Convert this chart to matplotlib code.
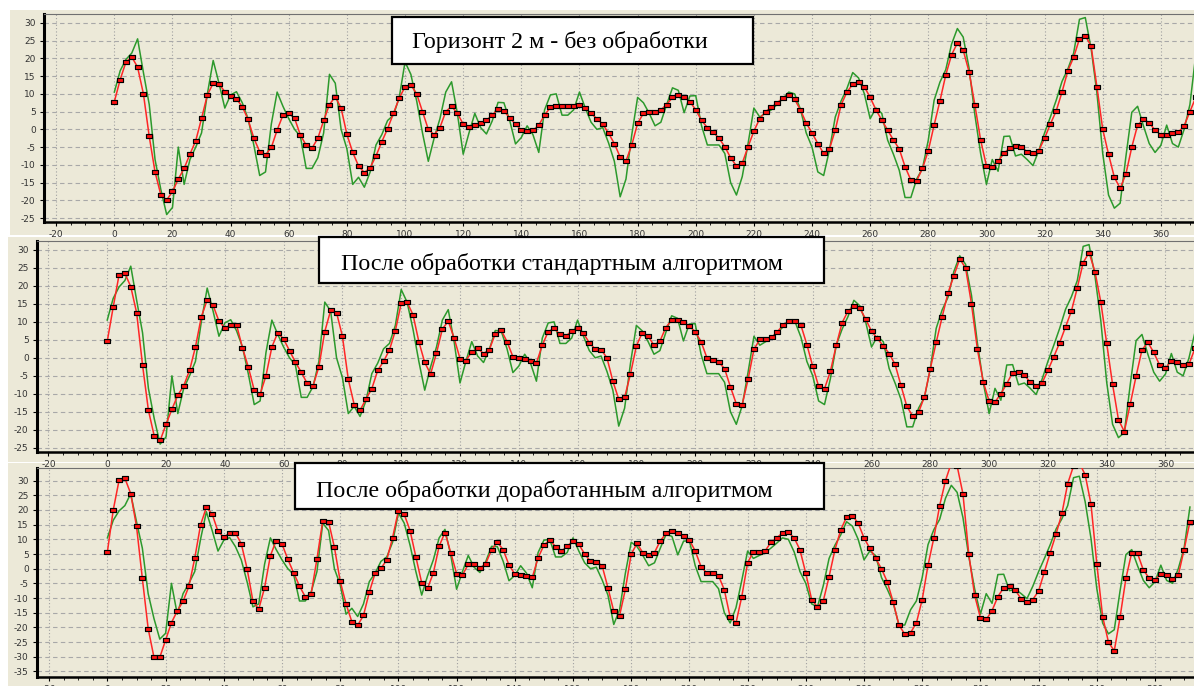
import numpy as np
import matplotlib
matplotlib.use('Agg')
import matplotlib.pyplot as plt
from matplotlib.patches import Rectangle
from matplotlib.ticker import MultipleLocator

plt.rcParams['axes.unicode_minus'] = False

# x positions of the samples (every 2 units)
x = np.arange(0, 373, 2)

# measured signal, the same in all three panels
green = [
    10.5, 16.5, 19.7, 21.5, 25.5, 16, 7, -8.5, -17, -24,
    -22, -5, -15.5, -8.5, -5, -1, 10, 19.4, 13, 6,
    9.7, 10.6, 7.5, 3, -4.5, -13, -12, 1.5, 10.5, 6.5,
    3, 0, -2, -11, -11, -8, -1, 15.5, 13, 0,
    -5.5, -15.5, -13.5, -16.3, -12, -4.4, -1.5, 2.5, 4, 9,
    19, 15.5, 8, -1, -9, -2.5, 3, 10.5, 13.4, 4.5,
    -7, -1, 4.5, 0.5, -1.3, 2.4, 7.6, 7.5, 2.5, -4.1,
    -2.3, 1, -1.5, -6.5, 5.5, 9.7, 10, 4, 4, 5.5,
    10.5, 6, 2, 0, 0.5, -3.8, -9, -19, -14, -1.5,
    9, 7.5, 4.5, 1, 2, 7, 11.7, 11, 4.7, 9.4,
    9.5, 1, -4.4, -4.4, -4.4, -6.8, -15, -18.5, -13.3, -4,
    6, 3.5, 4.5, 5.5, 7, 8.7, 10.5, 10, 5.7, -1,
    -5, -12, -13, -5.8, 3.5, 8, 11.5, 16, 14.5, 10,
    3, 6, 4.5, -3, -7, -11.5, -19.2, -19.2, -14, -11,
    -3, 8.2, 13.3, 16.8, 24, 28.4, 26, 17.4, 4.2, -6.8,
    -15.5, -8.5, -11.8, -2, -1.9, -7.5, -7, -8.5, -10.2, -6,
    -1, 3.5, 8.2, 13.5, 17, 21.5, 31, 31.5, 22.8, 10.3,
    -6.8, -18.5, -22.2, -20.8, -7.5, 4.8, 6.5, 1, -4, -6.5,
    -4.5, 1.2, -4, -5, 0, 7, 21,
]

# without processing
red_raw = [
    7.8, 14, 19, 20.4, 17.5, 10, -2, -12, -18.5, -19.9,
    -17.5, -14, -11, -7, -3.2, 3.1, 9.7, 13, 12.8, 10.6,
    9.5, 8.6, 6.4, 2.8, -2.5, -6.3, -7.2, -5.1, -0.2, 4,
    4.5, 3.1, -1.6, -4.5, -5.3, -2.5, 2.5, 7, 9.2, 6,
    -1.4, -6.5, -10.3, -12.2, -10.8, -7.5, -3.5, 0.2, 4.5, 8.8,
    12, 12.5, 10, 5, 0, -1.5, 0.5, 5, 6.5, 4.5,
    1.5, 0.8, 1.3, 1.8, 2.6, 4, 5.8, 5.2, 3.2, 1.5,
    -0.2, -0.5, -0.3, 1.2, 4, 6.2, 6.6, 6.6, 6.6, 6.6,
    6.8, 6, 4.5, 3, 1.5, -1.1, -4, -7.8, -8.9, -4.4,
    1.7, 4.5, 5, 4.8, 5.5, 7, 9, 9.6, 9, 7.8,
    5.5, 2.5, 0.5, -0.8, -2.5, -4.9, -8, -10.3, -9.5, -4.9,
    -0.5, 3, 5, 6.2, 7.5, 8.8, 9.7, 8.5, 5.5, 1.8,
    -1, -4, -6.8, -5.5, -0.2, 6.9, 10.5, 12.7, 13.4, 12,
    9, 5.5, 2.6, -0.2, -3, -5.5, -10.5, -14.3, -14.5, -11,
    -6, 1.2, 8, 15.3, 21, 24.3, 22.3, 16.3, 7, -3,
    -10.3, -10.7, -9, -6.8, -5.2, -4.8, -5, -6.3, -6.8, -6,
    -2.5, 1.5, 5.2, 10.5, 16.5, 20.3, 25.5, 26.4, 23.5, 12,
    0, -7, -13.5, -16.6, -12.5, -5, 1.2, 2.8, 1.9, -0.3,
    -1.5, -1.5, -1.1, -0.8, 1, 5, 9,
]

# standard algorithm
red_std = [
    4.6, 14, 23, 23.5, 19.8, 12.5, -2, -14.6, -21.8, -23,
    -18.5, -14.3, -10.4, -7.8, -3.5, 3, 11.4, 16.1, 14.6, 10.2,
    8.3, 9.1, 9.1, 2.8, -2.6, -9, -10.1, -5, 3, 7,
    5.2, 2, -1.2, -4, -7.1, -7.8, -2.5, 7.3, 13.2, 12.6,
    6, -6, -13, -14.6, -11.5, -8.6, -3.5, -1, 2.2, 7.5,
    15.2, 15.5, 12, 4.5, -1.3, -4.5, 1.3, 8, 10.2, 5.5,
    -0.2, -0.8, 1.7, 2.6, 1.2, 2.3, 6.7, 7.7, 4.5, 0.3,
    0, -0.3, -0.9, -1.4, 3.5, 7.3, 8.2, 6.5, 6, 7.5,
    8.3, 6.8, 4.2, 2.4, 2.3, 0, -6.5, -11.5, -11, -4.5,
    3.3, 7, 6, 3.5, 4.6, 8.4, 10.5, 10.4, 10, 8.8,
    7.3, 4.5, 0, -0.6, -1.2, -3, -8.1, -12.8, -13, -6,
    2.4, 5.1, 5.1, 5.7, 7.3, 9.2, 10.2, 10.2, 9, 3.7,
    -2.4, -7.9, -8.6, -3.8, 3.5, 9.8, 13, 14.4, 13.8, 10.8,
    7.4, 5.4, 3.3, 1.2, -1.8, -7.6, -13.5, -16.2, -15.2, -10.8,
    -3, 4.3, 11.3, 18, 22.8, 27.5, 25, 15, 2.5, -6.7,
    -12, -12.3, -10, -7.2, -4.1, -3.9, -4.8, -6.8, -7.7, -7,
    -3.5, 0.3, 4.2, 8.6, 13, 19.5, 26.5, 29.3, 24, 15.5,
    4, -7.4, -17.2, -20.5, -12.9, -5.1, 2.2, 4.3, 1.5, -2,
    -2.9, -0.8, -1.2, -2, -1.8, 2.6, 6,
]

# improved algorithm
red_new = [
    5.8, 20, 30.1, 30.8, 25.6, 14.4, -3.3, -20.4, -30.2, -30.2,
    -24.3, -18.4, -14.4, -11.1, -6, 3.5, 14.9, 20.9, 18.6, 12.7,
    10.7, 12.2, 12.2, 8.5, 0, -11, -13.8, -6.5, 4.4, 9.6,
    8.4, 3.2, -1.4, -5.9, -9.6, -8.6, 3.3, 16.4, 16, 7.3,
    -4.3, -12, -18.1, -19.3, -15.9, -8, -1.5, 0.1, 3, 10.6,
    19.8, 18.5, 13, 4, -4.8, -6.7, -1.5, 7.7, 12.3, 5.4,
    -1.7, -2.2, 1.5, 1.7, 0.2, 1.7, 6.4, 9, 6.5, 1.2,
    -1.8, -2.1, -2.6, -3, 3.7, 8, 9.8, 7.5, 6, 7.6,
    9.5, 8.3, 5, 2.5, 2.4, 1, -6.5, -14.5, -16, -7,
    5, 8.6, 5.4, 4.8, 5.5, 9.5, 12, 13, 12.2, 11.3,
    9.8, 6, 0.7, -1.5, -1.6, -2.4, -7.2, -16.5, -18.5, -9.5,
    2, 5.8, 5.6, 6, 9, 10.5, 12.2, 12.4, 10.5, 6.4,
    -1.6, -10.5, -13, -11, -2.7, 6.4, 13.2, 17.6, 18.1, 15.5,
    10.5, 6.9, 3.5, 0, -4.5, -11.3, -19.2, -22.3, -21.8, -18.5,
    -10.5, 1.2, 10.5, 21.5, 30, 36, 35, 25.5, 5, -9,
    -16.7, -17.3, -14.3, -9.5, -6.5, -6, -7.3, -10.3, -11.2, -10.5,
    -7.6, -1, 5.5, 11.8, 18.8, 29, 35, 36, 32, 22,
    1.7, -16.3, -25, -28, -16.5, -3.3, 5.5, 5.2, -0.5, -3.2,
    -3.9, -1.7, -2, -3.5, -2.2, 6.5, 16,
]

titles = [
    'Горизонт 2 м - без обработки',
    'После обработки стандартным алгоритмом',
    'После обработки доработанным алгоритмом',
]

W, H = 1194, 686
BG = '#ECE9D8'


def fig_rect(left, top, right, bottom):
    # pixel box (origin top-left) -> figure fraction
    return [left / W, 1 - bottom / H, (right - left) / W, (bottom - top) / H]


fig = plt.figure(figsize=(W / 100, H / 100), dpi=100, facecolor='white')

for l, t, r, b in [(10, 10, 1194, 235), (8, 237, 1194, 462), (8, 463, 1194, 686)]:
    x0, y0, w, h = fig_rect(l, t, r, b)
    fig.add_artist(Rectangle((x0, y0), w, h, transform=fig.transFigure,
                             facecolor=BG, edgecolor='none', zorder=-5))

panels = [
    dict(pos=(44, 14, 1194, 222), xlim=(-24.2, 371.4), ylim=(-26.1, 32.5),
         ymin=-25, red=red_raw, box=(392, 17, 753, 64), txt=(412, 48)),
    dict(pos=(37, 241, 1194, 452), xlim=(-23.9, 369.7), ylim=(-26.2, 32.5),
         ymin=-25, red=red_std, box=(319, 237, 824, 283), txt=(341, 270)),
    dict(pos=(37, 468, 1194, 677), xlim=(-24.2, 373.4), ylim=(-36.9, 34.3),
         ymin=-35, red=red_new, box=(295, 463, 824, 509), txt=(316, 497)),
]

# flat rectangle marker
box_marker = [(-1, -0.6), (1, -0.6), (1, 0.6), (-1, 0.6), (-1, -0.6)]

for p, title in zip(panels, titles):
    ax = fig.add_axes(fig_rect(*p['pos']))
    ax.set_facecolor(BG)

    ax.plot(x, green, color='#2C992C', lw=1.1, zorder=3)
    ax.plot(x, p['red'], color='#FF2626', lw=1.1, zorder=4,
            marker=box_marker, ms=4.4, mfc='#FF1010', mec='black', mew=0.85)

    ax.set_xlim(*p['xlim'])
    ax.set_ylim(*p['ylim'])
    ax.set_yticks(np.arange(p['ymin'], 31, 5))
    ax.xaxis.set_major_locator(MultipleLocator(20))
    ax.xaxis.set_minor_locator(MultipleLocator(5))

    ax.yaxis.grid(True, color='#A8A8A8', lw=0.8, ls=(0, (4, 3)))
    ax.xaxis.grid(True, which='major', color='#A0A0A0', lw=0.8, ls=(0, (1, 2)))
    ax.set_axisbelow(True)

    ax.tick_params(axis='both', labelsize=6.5, labelcolor='#333333',
                   length=3, width=0.8, pad=3)
    ax.tick_params(axis='x', which='minor', length=2, width=0.6)

    ax.spines['right'].set_visible(False)
    ax.spines['left'].set_linewidth(2.2)
    ax.spines['bottom'].set_linewidth(1.8)
    ax.spines['top'].set_linewidth(0.8)
    ax.spines['top'].set_color('#707070')

    # caption box
    bx0, by0, bw, bh = fig_rect(*p['box'])
    fig.add_artist(Rectangle((bx0, by0), bw, bh, transform=fig.transFigure,
                             facecolor='white', edgecolor='black', lw=1.6, zorder=10))
    fig.text(p['txt'][0] / W, 1 - p['txt'][1] / H, title, fontsize=17.3,
             family='Liberation Serif', ha='left', va='baseline', zorder=11)

fig.savefig('out.png', dpi=100, facecolor='white')
